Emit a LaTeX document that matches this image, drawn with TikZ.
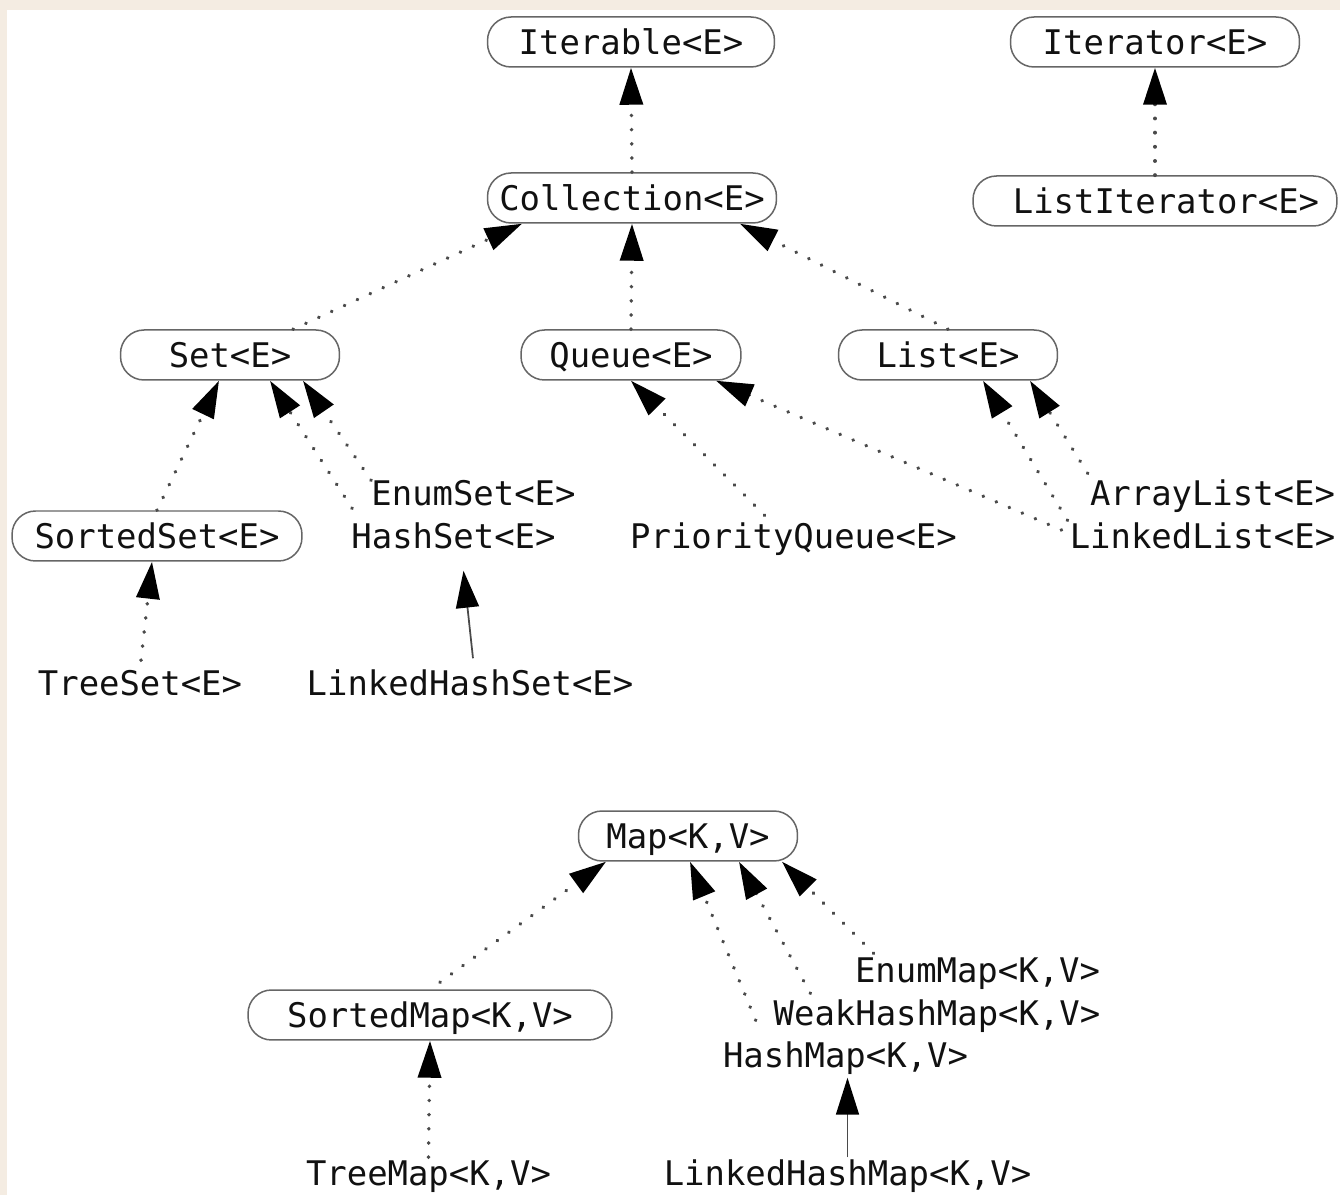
\documentclass[tikz,border=0pt]{standalone}
\usepackage{fontspec}
\usepackage{tikz}
\usetikzlibrary{arrows.meta, calc, positioning}
\newfontfamily\classfont{DejaVu Sans Mono}

\begin{document}
\begin{tikzpicture}[x=0.02cm, y=-0.02cm,
  every node/.style={font=\classfont\fontsize{19.3}{23}\selectfont, text=texto, inner sep=0pt, text height=14.1pt, text depth=0pt},
  iface/.style={draw=borda, line width=0.03cm, rounded corners=0.47cm, minimum height=1cm, fill=white},
  impl/.style={draw=seta, line width=0.075cm, line cap=round, dash pattern=on 0.1pt off 0.28cm, -{Triangle[length=0.74cm, width=0.46cm, color=black]}},
  extd/.style={draw=seta, line width=0.035cm, -{Triangle[length=0.74cm, width=0.46cm, color=black]}}]
% --- CORES ---
\definecolor{fundo}{HTML}{F4ECE2}
\definecolor{texto}{HTML}{111111}
\definecolor{borda}{HTML}{666666}
\definecolor{seta}{HTML}{4A4A4A}

% LAYER 0: Moldura
\useasboundingbox (0,0) rectangle (1340,1195);
\fill[fundo] (0,0) rectangle (1340,1195);
\fill[white] (7,10) rectangle (1340,1195);

% LAYER 1: Interfaces de colecao
\node[iface, minimum width=5.74cm] (iterable) at (631,42) {Iterable<E>};
\node[iface, minimum width=5.78cm] (iterator) at (1155,42) {Iterator<E>};
\node[iface, minimum width=5.78cm] (collection) at (632,198) {Collection<E>};
\node[iface, minimum width=7.28cm] (listiter) at (1155,201) {\hspace{0.44cm}ListIterator<E>};
\node[iface, minimum width=4.38cm] (set) at (230,355) {Set<E>};
\node[iface, minimum width=4.4cm] (queue) at (631,355) {Queue<E>};
\node[iface, minimum width=4.38cm] (list) at (948,355) {List<E>};
\node[iface, minimum width=5.8cm] (sortedset) at (157,536) {SortedSet<E>};

% LAYER 2: Classes de colecao
\node (enumset) at (473.5,493) {EnumSet<E>};
\node (hashset) at (453.5,536) {HashSet<E>};
\node (pqueue) at (793.5,536) {PriorityQueue<E>};
\node (arraylist) at (1212.5,493) {ArrayList<E>};
\node (linkedlist) at (1202.5,536) {LinkedList<E>};
\node (treeset) at (140,683) {TreeSet<E>};
\node (lhashset) at (470,683) {LinkedHashSet<E>};

% LAYER 3: Mapas
\node[iface, minimum width=4.38cm] (map) at (688,836) {Map<K,V>};
\node[iface, minimum width=7.28cm] (sortedmap) at (430,1015) {SortedMap<K,V>};
\node (enummap) at (977.5,970) {EnumMap<K,V>};
\node (weakhashmap) at (937,1013) {WeakHashMap<K,V>};
\node (hashmap) at (845.5,1055) {HashMap<K,V>};
\node (treemap) at (428.5,1173) {TreeMap<K,V>};
\node (lhashmap) at (847.5,1173) {LinkedHashMap<K,V>};

% LAYER 4: Setas (implementa / estende)
\draw[impl] (collection.north) -- (iterable.south);
\draw[impl] (listiter.north) -- (iterator.south);
\draw[impl] ($(set.north)+(63,0)$) -- ($(collection.south)+(-110,0)$);
\draw[impl] (queue.north) -- (collection.south);
\draw[impl] (list.north) -- ($(collection.south)+(108,0)$);
\draw[impl] (sortedset.north) -- ($(set.south)+(-11,0)$);
\draw[impl] ($(hashset.north west)+(1,-15)$) -- ($(set.south)+(40,0)$);
\draw[impl] (enumset.north west) -- ($(set.south)+(73,0)$);
\draw[impl] ($(pqueue.north)+(-29,-8)$) -- (queue.south);
\draw[impl] ($(linkedlist.west)+(-8,-6)$) -- ($(queue.south)+(85,0)$);
\draw[impl] ($(linkedlist.north west)+(-2,-3)$) -- ($(list.south)+(35,0)$);
\draw[impl] ($(arraylist.north west)+(-2,-7)$) -- ($(list.south)+(82,0)$);
\draw[impl] ($(treeset.north)+(1,-10)$) -- ($(sortedset.south)+(-5,0)$);
\draw[extd] ($(lhashset.north)+(3,-12)$) -- ($(hashset.south)+(10,22)$);

\draw[impl] ($(sortedmap.north)+(10,-7)$) -- ($(map.south)+(-82,0)$);
\draw[impl] ($(hashmap.north west)+(33,-22)$) -- ($(map.south)+(2,0)$);
\draw[impl] ($(weakhashmap.north west)+(37,-7)$) -- ($(map.south)+(51,0)$);
\draw[impl] ($(enummap.north west)+(19,-4)$) -- ($(map.south)+(94,0)$);
\draw[impl] ($(treemap.north)+(0,-3)$) -- (sortedmap.south);
\draw[extd] ($(lhashmap.north)+(0,-3)$) -- ($(hashmap.south)+(2,10)$);
\end{tikzpicture}
\end{document}
